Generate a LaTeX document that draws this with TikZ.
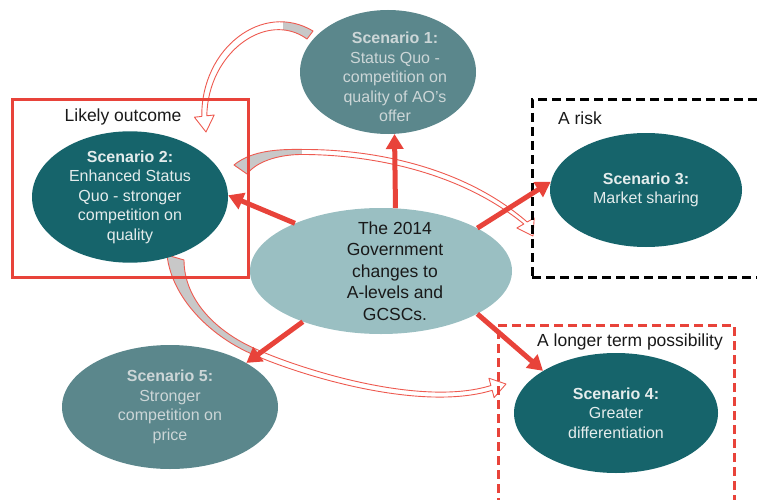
\documentclass[tikz,border=0pt]{standalone}
\usepackage{fontspec}
\setmainfont{Liberation Sans}
\usetikzlibrary{shapes.geometric,arrows.meta}
\definecolor{myred}{HTML}{E8433A}
\definecolor{tealdark}{HTML}{16646B}
\definecolor{tealgray}{HTML}{5B878C}
\definecolor{tealpale}{HTML}{9ABFC2}
\definecolor{lighttext}{HTML}{E4ECEC}
\definecolor{greytext}{HTML}{CCD6D7}
\definecolor{ribbongray}{HTML}{C8C8C8}
\definecolor{ribbonline}{HTML}{EE5A50}
\begin{document}
\begin{tikzpicture}[x=1pt,y=-1pt,
  scen/.style={ellipse, inner sep=0pt, align=center, font=\fontsize{16}{19.5}\selectfont},
  darkscen/.style={scen, fill=tealdark, text=lighttext},
  grayscen/.style={scen, fill=tealgray, text=greytext},
  scentext/.style={inner sep=0pt, align=center, font=\fontsize{16}{19.5}\selectfont},
  centre/.style={ellipse, inner sep=0pt, fill=tealpale},
  centretext/.style={inner sep=0pt, align=center, text=black!90, font=\fontsize{17.5}{21.5}\selectfont},
  lbl/.style={inner sep=0pt, text=black!90, font=\fontsize{17.5}{21}\selectfont},
  framebox/.style={rectangle, inner sep=0pt, line width=3pt},
  bigarrow/.style={draw=myred, line width=5pt, -{Triangle[length=15pt,width=17pt]}},
  ribbon/.style={draw=ribbonline, line width=0.9pt, line join=round}]
\useasboundingbox (0,0) rectangle (757,500);
\clip (0,0) rectangle (757,500);

\def\ribbonA{(307,39) -- (313,31) .. controls (263,1) and (201,48) .. (201.8,116.4) -- (194.4,117.2) -- (206,132) -- (214.2,115) -- (206.8,115.8) .. controls (208,52) and (267,10) .. (307,39) -- cycle}
\def\ribbonB{(247,174) -- (234,165) .. controls (252,150) and (280,149) .. (305,149.5) .. controls (371,149.5) and (462,165.5) .. (527.2,222) -- (534.2,218) -- (533,236) -- (516.8,228) -- (523.8,224) .. controls (458,170.5) and (369,155) .. (305,154.5) .. controls (282,154) and (258,160) .. (247,174) -- cycle}
\def\ribbonC{(184,260) -- (167,255) .. controls (172,300) and (213.4,338) .. (253.8,354.8) .. controls (298.8,374.8) and (419.5,412.5) .. (492.2,390.3) -- (494.1,397.6) -- (506,384) -- (488.9,378.2) -- (490.9,385.5) .. controls (420.5,407.5) and (301.2,369.2) .. (256.2,349.2) .. controls (216.6,332) and (184,300) .. (184,260) -- cycle}

% curved ribbon arrows
\fill[white] \ribbonA;
\begin{scope}\clip \ribbonA; \fill[ribbongray] (283,0) rectangle (330,60);\end{scope}
\path[ribbon] \ribbonA;

\fill[white] \ribbonB;
\begin{scope}\clip \ribbonB; \fill[ribbongray] (220,120) rectangle (302,185);\end{scope}
\path[ribbon] \ribbonB;

\fill[white] \ribbonC;
\begin{scope}\clip \ribbonC; \fill[ribbongray] (150,240) rectangle (257,360);\end{scope}
\path[ribbon] \ribbonC;

% frames
\node[framebox, draw=myred, minimum width=236pt, minimum height=177pt] (box2) at (130,188.5) {};
\node[framebox, draw=black, dash pattern=on 9pt off 5pt, minimum width=248pt, minimum height=177pt] (box3) at (656,188.5) {};
\node[framebox, draw=myred, dash pattern=on 9pt off 5pt, minimum width=236pt, minimum height=195pt] (box4) at (616,422.5) {};
\node[lbl] (l2) at (123,117) {Likely outcome};
\node[lbl] (l3) at (580,118) {A risk};
\node[lbl] (l4) at (630,342) {A longer term possibility};

% ellipses
\node[grayscen, minimum width=176pt, minimum height=124pt] (s1) at (388,72) {};
\node[scentext, text=greytext] (s1t) at (395,77)
  {\textbf{Scenario 1:}\\Status Quo -\\competition on\\quality of AO’s\\offer};
\node[darkscen, minimum width=196pt, minimum height=116pt] (s2) at (130,197)
  {\textbf{Scenario 2:}\\Enhanced Status\\Quo - stronger\\competition on\\quality};
\node[darkscen, minimum width=192pt, minimum height=114pt] (s3) at (646,190)
  {\textbf{Scenario 3:}\\Market sharing};
\node[darkscen, minimum width=204pt, minimum height=120pt] (s4) at (616,413)
  {\textbf{Scenario 4:}\\Greater\\differentiation};
\node[grayscen, minimum width=216pt, minimum height=124pt] (s5) at (170,407)
  {\textbf{Scenario 5:}\\Stronger\\competition on\\price};
\node[centre, minimum width=262pt, minimum height=126pt] (c) at (381,271) {};
\node[centretext] (ct) at (395,271)
  {The 2014\\Government\\changes to\\A-levels and\\GCSCs.};

% straight arrows
\draw[bigarrow] (c.77) -- (s1.-84);
\draw[bigarrow] (c.151) -- (s2.1);
\draw[bigarrow] (c.24) -- (s3.175);
\draw[bigarrow] (c.213) -- (s5.30);
\draw[bigarrow] (c.-24) -- (s4.150);
\end{tikzpicture}
\end{document}
